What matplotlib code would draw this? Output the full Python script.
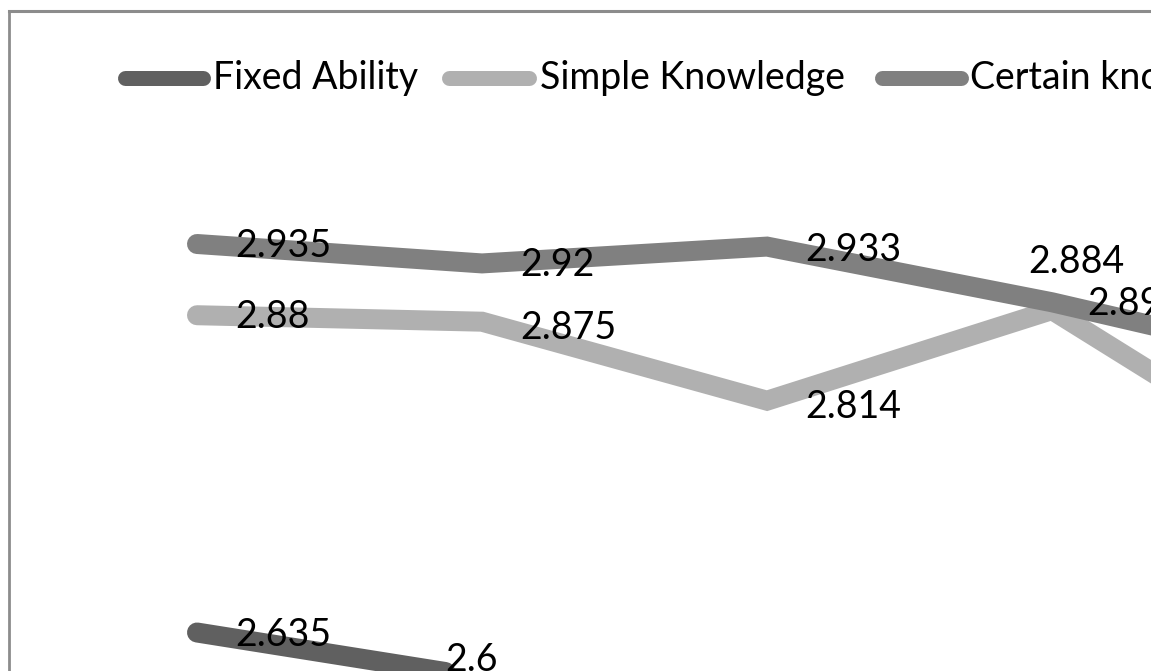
import matplotlib.pyplot as plt
import numpy as np

# categories (axis labels are outside the visible crop)
categories = ["1", "2", "3", "4", "5"]
fixed_ability = [2.635, 2.6, 2.597, 2.58, 2.57]
simple_knowledge = [2.88, 2.875, 2.814, 2.884, 2.747]
certain_knowledge = [2.935, 2.92, 2.933, 2.89, 2.839]

series_names = ["Fixed Ability", "Simple Knowledge", "Certain knowledge"]
series_values = [fixed_ability, simple_knowledge, certain_knowledge]
colors = ["#606060", "#b0b0b0", "#808080"]

# label offsets in pixels (dx, dy) from each point, only for visible labels
label_offsets = [
    [(38, -2), (-37, 18)],
    [(38, -2), (38, -6), (38, -6), (-24, 48)],
    [(38, -2), (38, -2), (38, -3), (35, -2)],
]

W, H = 1163, 671
fig = plt.figure(figsize=(W / 100, H / 100), dpi=100)
ax = fig.add_axes([0, 0, 1151 / W, 1])
ax.set_axis_off()

# scale: first category at 197px, 285px per category; 1295px per unit
ppu = 1295
ax.set_xlim(-197 / 285, (1151 - 197) / 285)
ax.set_ylim(2.935 - 427 / ppu, 2.935 + 244 / ppu)

font = "Lato"
x = np.arange(len(categories))
for name, vals, c in zip(series_names, series_values, colors):
    ax.plot(x, vals, color=c, lw=14.4, solid_capstyle="round",
            solid_joinstyle="miter", clip_on=True)

for vals, offs in zip(series_values, label_offsets):
    for i, (dx, dy) in enumerate(offs):
        ax.annotate(f"{vals[i]:g}", (x[i], vals[i]), xytext=(dx, dy),
                    textcoords="offset pixels", ha="left", va="center",
                    fontsize=27, family=font, color="black",
                    annotation_clip=False, clip_on=True)

# legend drawn by hand along the top
aw = 1151
leg_y = 1 - 78 / H
leg_items = [(125, 203, 213), (449, 529, 540), (882, 961, 970)]
for (x0, x1, tx), name, c in zip(leg_items, series_names, colors):
    ax.plot([x0 / aw, x1 / aw], [leg_y, leg_y], transform=ax.transAxes,
            color=c, lw=10.8, solid_capstyle="round", clip_on=True)
    ax.text(tx / aw, leg_y, name, transform=ax.transAxes, ha="left",
            va="center", fontsize=27, family=font, clip_on=True)

# chart frame (only top and left edges are inside the crop)
bc = "#8c8c8c"
ax.plot([9 / aw, 9 / aw], [-0.1, 1 - 10.5 / H], transform=ax.transAxes,
        color=bc, lw=2, clip_on=True)
ax.plot([9 / aw, 1.1], [1 - 10.5 / H, 1 - 10.5 / H], transform=ax.transAxes,
        color=bc, lw=2.2, clip_on=True, solid_capstyle="projecting")

fig.savefig("out.png", dpi=100)
